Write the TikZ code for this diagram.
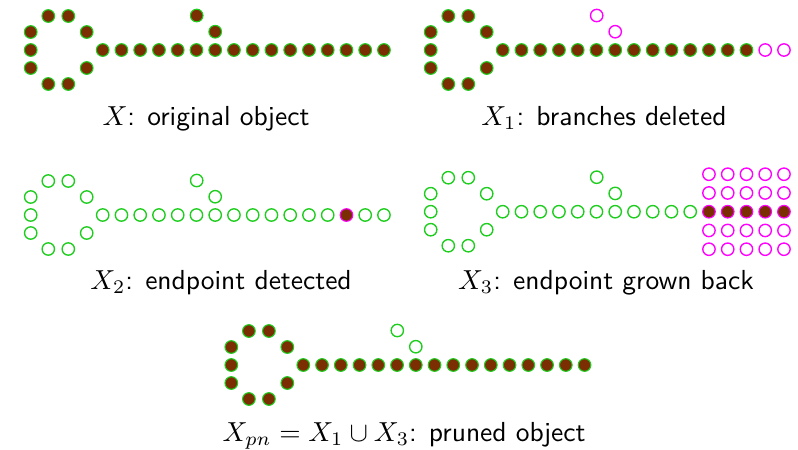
\documentclass[tikz,border=0pt]{standalone}
\definecolor{brn}{RGB}{122,46,2}
\definecolor{grn}{RGB}{30,205,30}
\definecolor{mag}{RGB}{255,0,255}
\tikzset{
  dotf/.style={circle,inner sep=0pt,minimum size=4.6pt,fill=brn,draw=grn,line width=0.4pt},
  dotfm/.style={circle,inner sep=0pt,minimum size=4.6pt,fill=brn,draw=mag,line width=0.4pt},
  doto/.style={circle,inner sep=0pt,minimum size=4.5pt,draw=grn,line width=0.5pt},
  dotm/.style={circle,inner sep=0pt,minimum size=4.5pt,draw=mag,line width=0.5pt},
  lbl/.style={font=\sffamily,anchor=base,inner sep=0pt}
}
\newcommand\skelloop[4]{%
  \foreach \dx/\dy [count=\k] in {-72/-18,-72/0,-72/18,-54.4/-34,-34.4/-34,-54.4/34,-34.4/34,-16/-18,-16/18}
    \node[#4] (#1l\k) at ({#2+\dx},{#3+\dy}) {};}
\newcommand\skelbranch[4]{%
  \node[#4] (#1b1) at ({#2+94},{#3-34.5}) {};
  \node[#4] (#1b2) at ({#2+112.5},{#3-18.3}) {};}
\newcommand\skelrow[6]{% prefix, x0, y0, from, to, style
  \foreach \i in {#4,...,#5}
    \node[#6] (#1m\i) at ({#2+\i*18.75},#3) {};}
\begin{document}
\begin{tikzpicture}[x=0.3636pt,y=-0.3636pt]
\useasboundingbox (0,0) rectangle (798,449);
% panel 1: X
\skelloop{a}{102.7}{50}{dotf}
\skelbranch{a}{102.7}{50}{dotf}
\skelrow{a}{102.7}{50}{0}{15}{dotf}
\node[lbl] (ta) at (206,125) {$X$: original object};
% panel 2: X1
\skelloop{b}{502.7}{50}{dotf}
\skelbranch{b}{502.7}{50}{dotm}
\skelrow{b}{502.7}{50}{0}{13}{dotf}
\skelrow{b}{502.7}{50}{14}{15}{dotm}
\node[lbl] (tb) at (604,125) {$X_1$: branches deleted};
% panel 3: X2
\skelloop{c}{102.7}{215}{doto}
\skelbranch{c}{102.7}{215}{doto}
\skelrow{c}{102.7}{215}{0}{12}{doto}
\skelrow{c}{102.7}{215}{13}{13}{dotfm}
\skelrow{c}{102.7}{215}{14}{15}{doto}
\node[lbl] (tc) at (221,289) {$X_2$: endpoint detected};
% panel 4: X3
\skelloop{d}{502.7}{211.7}{doto}
\skelbranch{d}{502.7}{211.7}{doto}
\skelrow{d}{502.7}{211.7}{0}{10}{doto}
\skelrow{d}{502.7}{211.7}{11}{15}{dotfm}
\skelrow{du}{502.7}{174.2}{11}{15}{dotm}
\skelrow{dv}{502.7}{192.95}{11}{15}{dotm}
\skelrow{dw}{502.7}{230.45}{11}{15}{dotm}
\skelrow{dx}{502.7}{249.2}{11}{15}{dotm}
\node[lbl] (td) at (606,289) {$X_3$: endpoint grown back};
% panel 5: Xpn
\skelloop{e}{303.3}{365}{dotf}
\skelbranch{e}{303.3}{365}{doto}
\skelrow{e}{303.3}{365}{0}{15}{dotf}
\node[lbl] (te) at (404,441) {$X_{pn}=X_1\cup X_3$: pruned object};
\end{tikzpicture}
\end{document}
